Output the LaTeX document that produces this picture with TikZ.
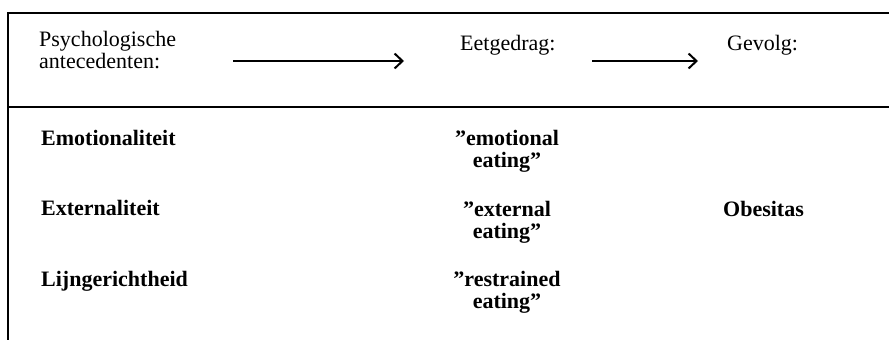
\documentclass[tikz,border=0pt]{standalone}
\usepackage{fontspec}
\setmainfont{Liberation Serif}
\usetikzlibrary{arrows.meta}
\begin{document}
\begin{tikzpicture}[x=1pt,y=-1pt,
  rule/.style={line width=1.8pt,black},
  flow/.style={line width=1.8pt,-{Straight Barb[length=8pt,width=15pt,line width=2pt]}},
  head/.style={inner sep=0pt,anchor=base west,font=\fontsize{22pt}{19pt}\selectfont,align=left},
  item/.style={inner sep=0pt,anchor=base west,font=\fontsize{22pt}{22pt}\selectfont\bfseries,align=left},
  mid/.style={inner sep=0pt,anchor=base,font=\fontsize{22pt}{22pt}\selectfont\bfseries,align=center}]
\useasboundingbox (0,0) rectangle (889,340);
% frame lines
\coordinate (tl) at (8,13);
\coordinate (tr) at (889,13);
\coordinate (ml) at (8,107);
\coordinate (mr) at (889,107);
\coordinate (bl) at (8,340);
\draw[rule] (tr) -- (tl) -- (bl);
\draw[rule] (ml) -- (mr);
% header (base anchor = last line's baseline)
\node[head] (psy) at (39,68) {Psychologische\\antecedenten:};
\node[head] (eet) at (460,50) {Eetgedrag:};
\node[head] (gev) at (727,50) {Gevolg:};
\coordinate (a1s) at (233,61);
\coordinate (a1e) at (404,61);
\coordinate (a2s) at (592,61);
\coordinate (a2e) at (698,61);
\draw[flow] (a1s) -- (a1e);
\draw[flow] (a2s) -- (a2e);
% rows
\node[item] (emo) at (41,145) {Emotionaliteit};
\node[item] (ext) at (41,215) {Externaliteit};
\node[item] (lij) at (41,286) {Lijngerichtheid};
\node[mid] (emoe) at (507,167) {”emotional\\eating”};
\node[mid] (exte) at (507,238) {”external\\eating”};
\node[mid] (rese) at (507,308) {”restrained\\eating”};
\node[item] (obe) at (723,216) {Obesitas};
\end{tikzpicture}
\end{document}
